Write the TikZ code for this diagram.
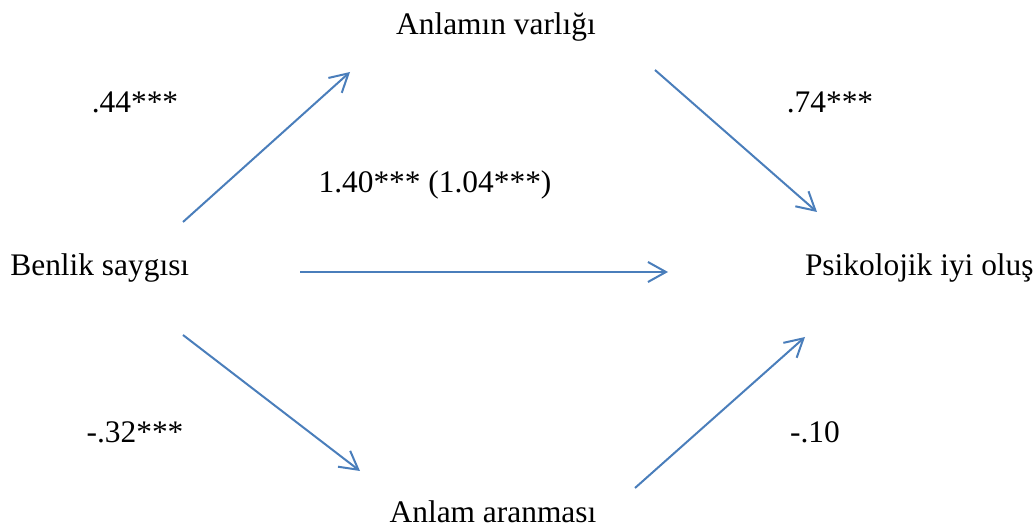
\documentclass[tikz,border=0pt]{standalone}
\usepackage{fontspec}
\setmainfont{Liberation Serif}
\usepackage{tikz}
\usetikzlibrary{arrows.meta,positioning}
\definecolor{yol}{HTML}{4A7EBB}
\tikzset{
  degisken/.style={inner sep=0pt,font=\fontsize{15.7}{19}\selectfont,text=black},
  katsayi/.style={inner sep=0pt,font=\fontsize{15.7}{19}\selectfont,text=black},
  ok/.style={draw=yol,line width=1pt,-{Straight Barb[length=9pt,width=10pt,line width=1pt]}},
}
\begin{document}
\begin{tikzpicture}[x=0.5pt,y=-0.5pt]
\useasboundingbox (0,0) rectangle (1035,529);
% degiskenler
\node[degisken,anchor=west] (bs) at (10,268) {Benlik saygısı};
\node[degisken,anchor=east] (pio) at (1034,268) {Psikolojik iyi oluş};
\node[degisken] (av) at (496,27) {Anlamın varlığı};
\node[degisken] (aa) at (493,512) {Anlam aranması};
% katsayilar
\node[katsayi] (k1) at (135,102) {.44***};
\node[katsayi] (k2) at (830,102) {.74***};
\node[katsayi] (k3) at (435,185) {1.40*** (1.04***)};
\node[katsayi] (k4) at (135,432) {-.32***};
\node[katsayi] (k5) at (815,432) {-.10};
% ok uclari
\coordinate (a1) at (183,222);
\coordinate (b1) at (350,72);
\coordinate (a2) at (655,70);
\coordinate (b2) at (817,212);
\coordinate (a3) at (300,272);
\coordinate (b3) at (668,272);
\coordinate (a4) at (183,335);
\coordinate (b4) at (360,471);
\coordinate (a5) at (635,488);
\coordinate (b5) at (805,337);
\draw[ok] (a1) -- (b1);
\draw[ok] (a2) -- (b2);
\draw[ok] (a3) -- (b3);
\draw[ok] (a4) -- (b4);
\draw[ok] (a5) -- (b5);
\end{tikzpicture}
\end{document}
